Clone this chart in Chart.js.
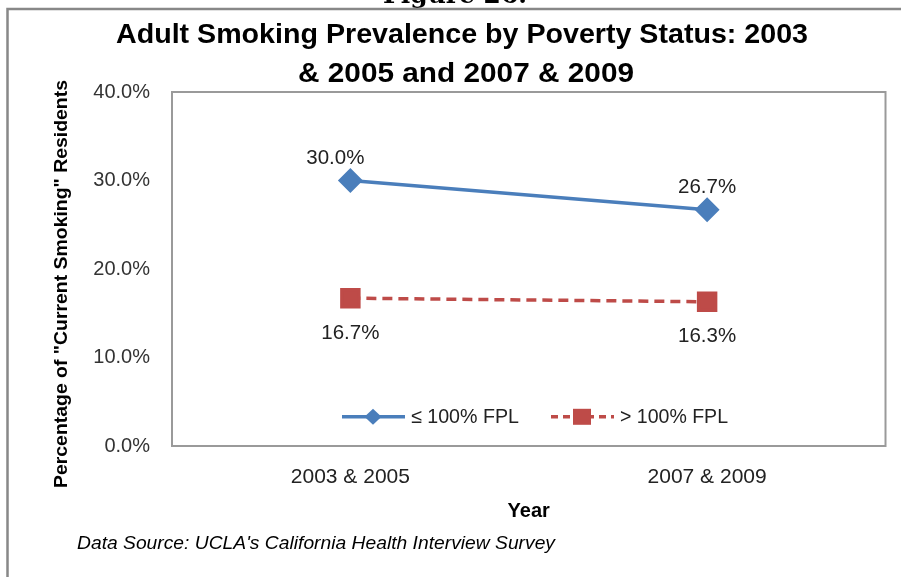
<!DOCTYPE html>
<html lang="en">
<head>
<meta charset="UTF-8">
<title>Adult Smoking Prevalence by Poverty Status</title>
<script src="https://cdn.jsdelivr.net/npm/chart.js"></script>
<style>
  html, body { margin: 0; padding: 0; background: #fff; overflow: hidden; }
</style>
</head>
<body>
<canvas id="myChart" width="901" height="577"></canvas>
<script>
  const years = ['2003 & 2005', '2007 & 2009'];
  const belowFpl = [30.0, 26.7];
  const aboveFpl = [16.7, 16.3];
  const seriesNames = ['\u2264 100% FPL', '> 100% FPL'];
  const yMin = 0, yMax = 40, yStep = 10;

  const BLUE = '#4A7EBB';
  const RED = '#BE4B48';
  const SANS = "'Liberation Sans', Arial, sans-serif";

  // draw text squeezed to a given width (narrow office-style lettering)
  function fitText(ctx, text, x, y, width, align) {
    const w = ctx.measureText(text).width;
    const sx = width ? width / w : 1;
    ctx.save();
    ctx.translate(x, y);
    ctx.scale(sx, 1);
    ctx.textAlign = align || 'center';
    ctx.fillText(text, 0, 0);
    ctx.restore();
  }

  const decorations = {
    id: 'decorations',
    beforeDraw(chart) {
      const ctx = chart.ctx;
      ctx.save();
      ctx.fillStyle = '#fff';
      ctx.fillRect(0, 0, chart.width, chart.height);
      // caption peeking above the frame
      ctx.fillStyle = '#000';
      ctx.font = "bold 25px 'DejaVu Serif', serif";
      ctx.textBaseline = 'alphabetic';
      fitText(ctx, 'Figure 26.', 455, 3, 144);
      // outer frame
      ctx.strokeStyle = '#888';
      ctx.lineWidth = 2.5;
      ctx.strokeRect(7.5, 9, 920, 600);
      // title
      ctx.fillStyle = '#000';
      ctx.font = 'bold 27px ' + SANS;
      fitText(ctx, 'Adult Smoking Prevalence by Poverty Status: 2003', 462, 43, 692);
      fitText(ctx, '& 2005 and 2007 & 2009', 466, 82, 336);
      // value axis title, rotated
      ctx.save();
      ctx.translate(62, 284);
      ctx.rotate(-Math.PI / 2);
      ctx.font = 'bold 19px ' + SANS;
      ctx.textBaseline = 'middle';
      fitText(ctx, 'Percentage of "Current Smoking" Residents', 0, 0, 408);
      ctx.restore();
      // source note
      ctx.font = 'italic 17.5px ' + SANS;
      ctx.textBaseline = 'alphabetic';
      fitText(ctx, "Data Source: UCLA's California Health Interview Survey", 77, 549, 478, 'left');
      ctx.restore();
    },
    beforeDatasetsDraw(chart) {
      const {ctx, chartArea: a} = chart;
      ctx.save();
      ctx.strokeStyle = '#9a9a9a';
      ctx.lineWidth = 2;
      ctx.strokeRect(a.left, a.top, a.right - a.left, a.bottom - a.top);
      ctx.restore();
    },
    afterDatasetsDraw(chart) {
      const ctx = chart.ctx;
      ctx.save();
      ctx.fillStyle = '#222';
      ctx.font = '20.5px ' + SANS;
      ctx.textAlign = 'center';
      ctx.textBaseline = 'middle';
      // value labels: upper series above its points, lower series below
      chart.data.datasets.forEach((ds, i) => {
        chart.getDatasetMeta(i).data.forEach((pt, j) => {
          const label = ds.data[j].toFixed(1) + '%';
          const above = i === 0;
          const dx = (i === 0 && j === 0) ? -15 : 0;
          ctx.fillText(label, pt.x + dx, above ? pt.y - 22 : pt.y + 35);
        });
      });

      // legend inside the plot area
      const y = chart.scales.y.getPixelForValue(3.3);
      const items = [
        {x: 342, ds: chart.data.datasets[0]},
        {x: 551, ds: chart.data.datasets[1]}
      ];
      items.forEach(it => {
        const ds = it.ds;
        ctx.strokeStyle = ds.borderColor;
        ctx.lineWidth = ds.borderWidth;
        ctx.setLineDash(ds.borderDash ? [7, 5] : []);
        ctx.beginPath();
        ctx.moveTo(it.x, y);
        ctx.lineTo(it.x + 63, y);
        ctx.stroke();
        ctx.setLineDash([]);
        ctx.fillStyle = ds.pointBackgroundColor;
        const cx = it.x + 31;
        if (ds.pointStyle === 'rectRot') {
          ctx.beginPath();
          ctx.moveTo(cx, y - 8); ctx.lineTo(cx + 8.5, y);
          ctx.lineTo(cx, y + 8); ctx.lineTo(cx - 8.5, y);
          ctx.closePath(); ctx.fill();
        } else {
          ctx.fillRect(cx - 9, y - 8, 18, 16);
        }
        ctx.fillStyle = '#222';
        ctx.font = '20px ' + SANS;
        ctx.textBaseline = 'middle';
        fitText(ctx, ds.label, it.x + 69, y + 1, 108, 'left');
      });
      ctx.restore();
    }
  };

  const ctx = document.getElementById('myChart').getContext('2d');
  const myChart = new Chart(ctx, {
    type: 'line',
    data: {
      labels: years,
      datasets: [
        {
          label: seriesNames[0],
          data: belowFpl,
          borderColor: BLUE,
          backgroundColor: BLUE,
          pointBackgroundColor: BLUE,
          pointBorderColor: BLUE,
          borderWidth: 3.5,
          pointStyle: 'rectRot',
          pointRadius: 10,
          fill: false
        },
        {
          label: seriesNames[1],
          data: aboveFpl,
          borderColor: RED,
          backgroundColor: RED,
          pointBackgroundColor: RED,
          pointBorderColor: RED,
          borderWidth: 3.5,
          borderDash: [10, 6],
          pointStyle: 'rect',
          pointRadius: 12,
          fill: false
        }
      ]
    },
    options: {
      responsive: false,
      animation: false,
      layout: { padding: { top: 92, right: 14, left: 0, bottom: 0 } },
      plugins: {
        legend: { display: false },
        tooltip: { enabled: false }
      },
      scales: {
        x: {
          offset: true,
          grid: { display: false, drawTicks: false },
          border: { display: false },
          ticks: {
            color: '#222',
            font: { family: SANS, size: 21 },
            padding: 19
          },
          title: {
            display: true,
            text: 'Year',
            color: '#000',
            font: { family: SANS, size: 20, weight: 'bold' },
            padding: { top: 4, bottom: 54 }
          },
          afterFit(scale) { scale.height = 131; }
        },
        y: {
          min: yMin,
          max: yMax,
          grid: { display: false, drawTicks: false },
          border: { display: false },
          ticks: {
            stepSize: yStep,
            color: '#333',
            font: { family: SANS, size: 20 },
            padding: 22,
            callback: v => v.toFixed(1) + '%'
          },
          afterFit(scale) { scale.width = 172; }
        }
      }
    },
    plugins: [decorations]
  });
</script>
</body>
</html>
